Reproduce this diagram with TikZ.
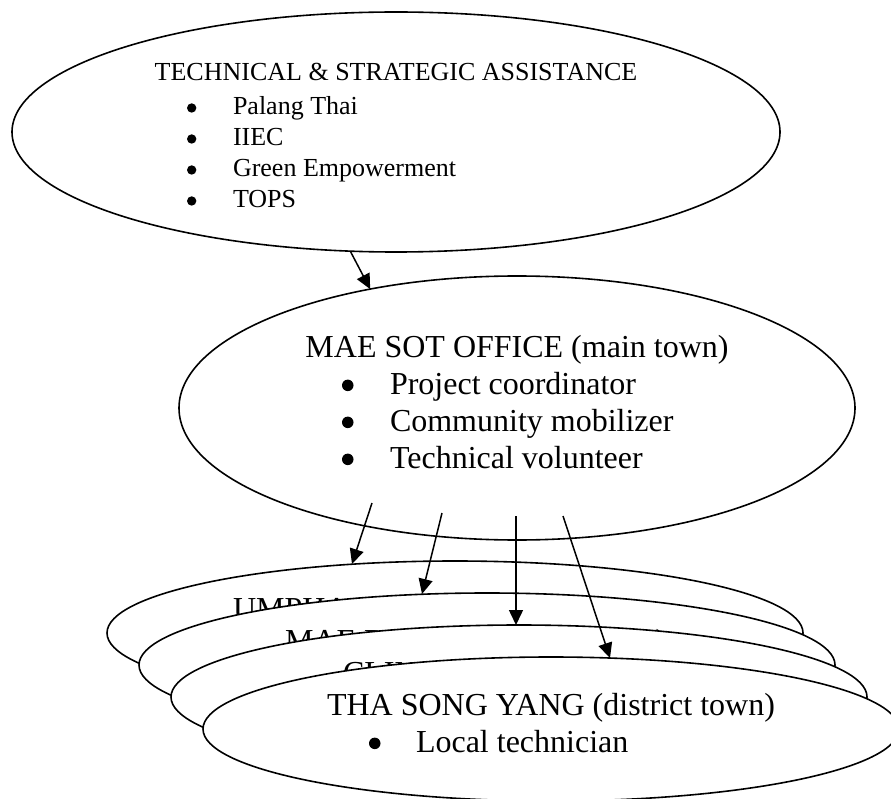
\documentclass[tikz,border=0pt]{standalone}
\usepackage{fontspec}
\setmainfont{Liberation Serif}
\usetikzlibrary{shapes.geometric,arrows.meta}
\newcommand{\bigbul}{\tikz[baseline=0pt]\fill (0.18em,0.27em) circle[radius=0.18em];}
\begin{document}
\begin{tikzpicture}[x=1pt,y=-1pt,
  ell/.style={draw, ellipse, fill=white, line width=1.6pt, inner sep=0pt, outer sep=0pt},
  ttl/.style={inner sep=0pt, outer sep=0pt, anchor=base},
  ttlw/.style={inner sep=0pt, outer sep=0pt, anchor=base west},
  lst/.style={inner sep=0pt, outer sep=0pt, anchor=base west},
  small/.style={font={\fontsize{26}{31}\selectfont}},
  big/.style={font={\fontsize{32}{37}\selectfont}},
  arr/.style={line width=1.5pt, -{Triangle[length=15pt,width=14pt]}}]
\useasboundingbox (0,0) rectangle (891,799);
\clip (0,0) rectangle (891,799);

% top ellipse
\node[ell, minimum width=768pt, minimum height=240pt] (tsa) at (396,132) {};
\node[ttl, small] (tsat) at (396,81) {TECHNICAL \& STRATEGIC ASSISTANCE};
\node[lst, small] (tsal) at (187,115) {\begin{tabular}[t]{@{}l@{}}
\makebox[46pt][l]{\bigbul}Palang Thai\\
\makebox[46pt][l]{\bigbul}IIEC\\
\makebox[46pt][l]{\bigbul}Green Empowerment\\
\makebox[46pt][l]{\bigbul}TOPS
\end{tabular}};

% Mae Sot ellipse
\node[ell, minimum width=676pt, minimum height=264pt] (mso) at (517,408) {};
\node[ttl, big] (msot) at (517,357) {MAE SOT OFFICE (main town)};
\node[lst, big] (msol) at (342,394) {\begin{tabular}[t]{@{}l@{}}
\makebox[48pt][l]{\bigbul}Project coordinator\\
\makebox[48pt][l]{\bigbul}Community mobilizer\\
\makebox[48pt][l]{\bigbul}Technical volunteer
\end{tabular}};

\draw[arr] (tsa.249.7) -- (mso.141.6);

% stacked district ellipses
\node[ell, minimum width=696pt, minimum height=144pt] (e1) at (455,633) {};
\node[ttlw, big] (e1t) at (233,619) {UMPHANG (district town)};
\node[ell, minimum width=696pt, minimum height=144pt] (e2) at (487,665) {};
\node[ttlw, big] (e2t) at (285,651) {MAE RAMAT (district town)};
\node[ell, minimum width=696pt, minimum height=144pt] (e3) at (519,697) {};
\node[ttlw, big] (e3t) at (343,683) {CLINIC (district town)};
\node[ell, minimum width=696pt, minimum height=144pt] (e4) at (551,729) {};
\node[ttl, big] (e4t) at (551,715) {THA SONG YANG (district town)};
\node[lst, big] (e4l) at (369,752) {\makebox[47pt][l]{\bigbul}Local technician};

% arrows from Mae Sot office
\coordinate (s1) at (372,503); \coordinate (t1) at (352,564);
\coordinate (s2) at (442,513); \coordinate (t2) at (422,594);
\coordinate (s3) at (516,516); \coordinate (t3) at (516,625);
\coordinate (s4) at (563,516); \coordinate (t4) at (610,658);
\draw[arr] (s1) -- (t1);
\draw[arr] (s2) -- (t2);
\draw[arr] (s3) -- (t3);
\draw[arr] (s4) -- (t4);
\end{tikzpicture}
\end{document}
